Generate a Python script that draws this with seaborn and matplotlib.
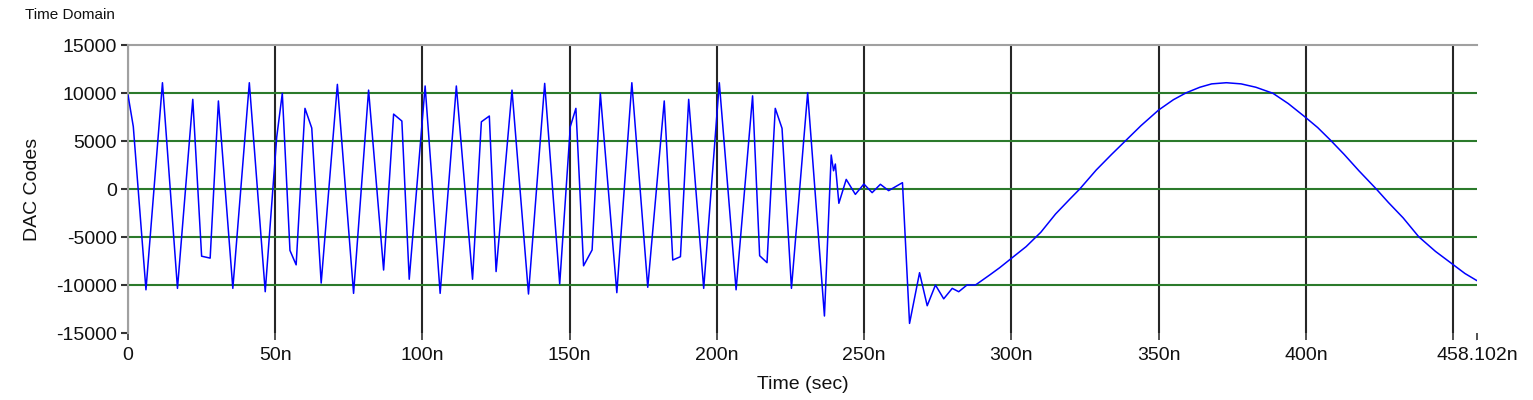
import matplotlib
matplotlib.use("Agg")
import matplotlib.pyplot as plt
import seaborn as sns
import pandas as pd
from matplotlib.ticker import FixedLocator, FixedFormatter

# ---- data (time in ns, DAC codes) ----
time_ns = [
    0, 1.8, 6.1, 11.7, 16.8, 22.0, 25.0, 27.9, 30.7, 35.6, 41.2, 46.6, 50.5, 52.4,
    55.0, 57.1, 60.1, 62.4, 65.6, 71.1, 76.6, 81.7, 86.8, 90.2, 93.0, 95.5,
    100.9, 106.0, 111.5, 117.0, 120.0, 122.7, 125.0, 130.4, 136.0, 141.5, 146.6,
    150.2, 152.1, 154.7, 157.6, 160.4, 166.0, 171.1, 176.5, 182.1, 185.0, 187.6,
    190.4, 195.5, 200.8, 206.5, 212.1, 214.5, 217.0, 219.8, 222.1, 225.3, 230.8,
    236.5, 238.8, 239.6, 240.2, 241.4, 243.9, 247.0, 249.9, 252.7, 255.5, 258.3,
    263.0, 265.4, 268.8, 271.4, 274.2, 277.0, 279.9, 282.1, 284.9, 287.8, 292.6,
    296.0, 300.0, 305.0, 310.0, 315.0, 320.0, 323.2, 328.8, 334.0, 339.0, 344.0,
    350.0, 355.0, 359.4, 364.0, 368.0, 373.0, 378.0, 383.0, 388.8, 394.0, 399.6,
    404.0, 408.3, 413.0, 418.0, 423.9, 428.0, 433.0, 438.3, 444.0, 449.4, 454.0,
    458.1,
]
dac_codes = [
    9800, 6500, -10500, 11070, -10350, 9340, -7000, -7200, 9170, -10350, 11070, -10700, 5400, 9970,
    -6400, -7900, 8400, 6350, -9800, 10900, -10870, 10300, -8440, 7800, 7080, -9400,
    10730, -10870, 10730, -9400, 7000, 7600, -8600, 10300, -10940, 11000, -9900,
    6500, 8400, -8000, -6350, 9970, -10800, 11070, -10240, 9170, -7400, -7050,
    9340, -10350, 11070, -10500, 9700, -6950, -7670, 8400, 6320, -10350, 10030,
    -13230, 3540, 1900, 2600, -1490, 1000, -560, 520, -380, 490, -170,
    660, -14000, -8720, -12160, -10000, -11440, -10350, -10700, -10000, -10000, -8960,
    -8200, -7220, -6000, -4500, -2600, -1000, 0, 1980, 3600, 5100, 6600,
    8230, 9300, 10030, 10600, 10950, 11070, 10950, 10600, 9970, 8900, 7530,
    6400, 5100, 3600, 1900, 0, -1400, -3000, -4970, -6500, -7740, -8800,
    -9550,
]

x_major = [0, 50, 100, 150, 200, 250, 300, 350, 400, 450]
x_major_labels = ["0", "50n", "100n", "150n", "200n", "250n", "300n", "350n", "400n", ""]
x_end = 458.102
x_end_label = "458.102n"
y_major = [-10000, -5000, 0, 5000, 10000]
y_edge = [-15000, 15000]

df = pd.DataFrame({"t": time_ns, "v": dac_codes})

sns.set_theme(style="white")
plt.rcParams["font.family"] = ["Liberation Sans", "DejaVu Sans"]
plt.rcParams["axes.unicode_minus"] = False

fig = plt.figure(figsize=(15.33, 4.0), dpi=100)
ax = fig.add_axes([128 / 1533, 1 - 333 / 400, (1477 - 128) / 1533, (333 - 45) / 400])

sns.lineplot(data=df, x="t", y="v", ax=ax, color="#0000ff", linewidth=1.1,
             sort=False, estimator=None, zorder=3)

ax.set_xlim(0, x_end)
ax.set_ylim(-15000, 15000)

ax.xaxis.set_major_locator(FixedLocator(x_major))
ax.xaxis.set_major_formatter(FixedFormatter(x_major_labels))
ax.xaxis.set_minor_locator(FixedLocator([x_end]))
ax.xaxis.set_minor_formatter(FixedFormatter([x_end_label]))

ax.yaxis.set_major_locator(FixedLocator(y_major))
ax.yaxis.set_major_formatter(FixedFormatter([str(v) for v in y_major]))
ax.yaxis.set_minor_locator(FixedLocator(y_edge))
ax.yaxis.set_minor_formatter(FixedFormatter([str(v) for v in y_edge]))

ax.xaxis.grid(True, which="major", color="#262626", linewidth=1.5)
ax.yaxis.grid(True, which="major", color="#2b7a2b", linewidth=1.5)
ax.set_axisbelow(True)

for which in ("major", "minor"):
    ax.tick_params(axis="x", which=which, direction="out", length=5, width=1.2,
                   color="#333333", pad=5, labelsize=14, labelcolor="#111111", bottom=True)
    ax.tick_params(axis="y", which=which, direction="out", length=5, width=1.5,
                   color="#333333", pad=3, labelsize=14, labelcolor="#111111", left=True)

for side in ("right", "bottom"):
    ax.spines[side].set_visible(False)
for side in ("top", "left"):
    ax.spines[side].set_visible(True)
    ax.spines[side].set_color("#a0a0a0")
    ax.spines[side].set_linewidth(1.5)

ax.set_xlabel("Time (sec)", fontsize=14, color="#111111")
ax.set_ylabel("DAC Codes", fontsize=14, color="#111111")
ax.xaxis.set_label_coords(0.5, -0.15)
ax.yaxis.set_label_coords(-0.0645, 0.5)

fig.text(25 / 1533, 1 - 15 / 400, "Time Domain", fontsize=11, color="#111111",
         ha="left", va="center")

fig.savefig("out.png", dpi=100)
